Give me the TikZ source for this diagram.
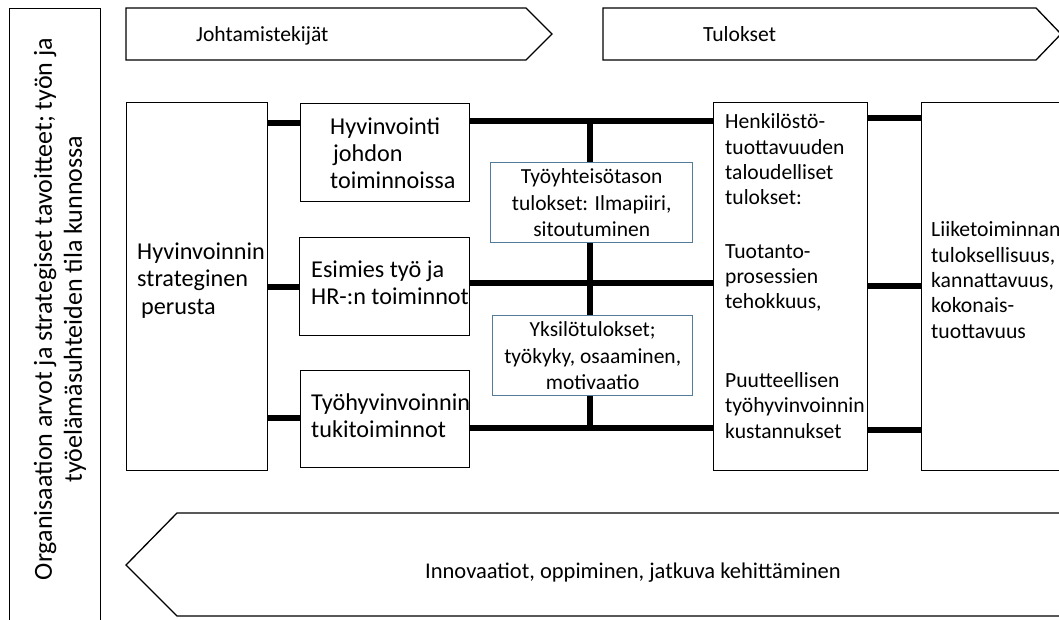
\documentclass[tikz,border=0pt]{standalone}
\usepackage{fontspec}
\setmainfont{Carlito}
\usetikzlibrary{backgrounds}
\definecolor{resultblue}{RGB}{84,124,153}
\begin{document}
\begin{tikzpicture}[x=1pt,y=-1pt,
  box/.style={draw=black,line width=1.4pt,fill=white,inner sep=0pt,anchor=north west},
  resbox/.style={draw=resultblue,line width=1.4pt,fill=white,inner sep=0pt,anchor=north west,
    align=center,font=\fontsize{21.5}{26.5}\selectfont},
  txt/.style={anchor=base west,inner sep=0pt,align=left},
  lefttxt/.style={txt,font=\fontsize{24.2}{27}\selectfont},
  righttxt/.style={txt,font=\fontsize{21.7}{25.3}\selectfont},
  bar/.style={line width=5.5pt},
  chev/.style={draw=black,line width=1.3pt,fill=white,line join=miter},
  chevtxt/.style={inner sep=0pt,font=\fontsize{21.6}{25}\selectfont}]
\useasboundingbox (0,0) rectangle (1059,619);

% outer frame with the vertical caption
\node[box,minimum width=91pt,minimum height=625pt] (frame) at (9,8) {};
\node[rotate=90,align=center,inner sep=0pt,font=\fontsize{26}{30}\selectfont] (framecap) at (60,309)
  {Organisaation arvot ja strategiset tavoitteet; työn ja\\ työelämäsuhteiden tila kunnossa};

% header arrows
\draw[chev] (126,8) -- (526,8) -- (552,34) -- (526,60) -- (126,60) -- cycle;
\node[chevtxt,anchor=base west] (lead) at (196,41) {Johtamistekijät};
\draw[chev] (603,8) -- (1036,8) -- (1061,34) -- (1036,60) -- (603,60) -- cycle;
\node[chevtxt,anchor=base west] (res) at (703,41) {Tulokset};

% bottom arrow
\draw[chev] (1070,513) -- (177,513) -- (126,565) -- (177,616) -- (1070,616);
\node[chevtxt,anchor=base,font=\fontsize{22.5}{25}\selectfont] (innov) at (633,578)
  {Innovaatiot, oppiminen, jatkuva kehittäminen};

% main boxes
\node[box,minimum width=141pt,minimum height=368pt] (strat) at (126,102) {};
\node[box,minimum width=169pt,minimum height=98pt] (hyv) at (300,103) {};
\node[box,minimum width=170pt,minimum height=98pt] (esim) at (299,237) {};
\node[box,minimum width=169pt,minimum height=97pt] (tuki) at (300,370) {};
\node[box,minimum width=154pt,minimum height=368pt] (henk) at (713,102) {};
\node[box,minimum width=170pt,minimum height=368pt] (liike) at (921,102) {};

\node[resbox,minimum width=202pt,minimum height=80pt] (yht) at (490,162)
  {Työyhteisötason\\tulokset: Ilmapiiri,\\sitoutuminen};
\node[resbox,minimum width=200pt,minimum height=80pt] (yks) at (492,315)
  {Yksilötulokset;\\työkyky, osaaminen,\\motivaatio};

% box texts (anchored at the baseline of the last line)
\node[lefttxt,font=\fontsize{24.2}{27.5}\selectfont] at (137,314) {Hyvinvoinnin\\strateginen\\\hspace{4pt}perusta};
\node[lefttxt] at (330,188) {Hyvinvointi\\\hspace{3pt}johdon\\toiminnoissa};
\node[lefttxt] at (311,304) {Esimies työ ja\\HR-:n toiminnot};
\node[lefttxt] at (311,437) {Työhyvinvoinnin\\tukitoiminnot};
\node[righttxt,font=\fontsize{21.6}{25.3}\selectfont] at (725,438)
  {Henkilöstö-\\tuottavuuden\\taloudelliset\\tulokset:\\[28pt]Tuotanto-\\prosessien\\tehokkuus,\\[53.5pt]Puutteellisen\\työhyvinvoinnin\\kustannukset};
\node[righttxt] at (931,338) {Liiketoiminnan\\tuloksellisuus,\\kannattavuus,\\kokonais-\\tuottavuus};

% connectors
\begin{scope}[on background layer]
  \draw[bar] (strat.east |- 0,123) -- (hyv.west |- 0,123);
  \draw[bar] (strat.east |- 0,287) -- (esim.west |- 0,287);
  \draw[bar] (strat.east |- 0,418) -- (tuki.west |- 0,418);
  \draw[bar] (hyv.east |- 0,121) -- (henk.west |- 0,121);
  \draw[bar] (esim.east |- 0,283) -- (henk.west |- 0,283);
  \draw[bar] (tuki.east |- 0,428) -- (henk.west |- 0,428);
  \coordinate (vtop) at (590,118.25);
  \coordinate (vbot) at (590,430.75);
  \draw[bar] (vtop) -- (vbot);
  \draw[bar] (henk.east |- 0,118) -- (liike.west |- 0,118);
  \draw[bar] (henk.east |- 0,286) -- (liike.west |- 0,286);
  \draw[bar] (henk.east |- 0,430) -- (liike.west |- 0,430);
\end{scope}
\end{tikzpicture}
\end{document}
